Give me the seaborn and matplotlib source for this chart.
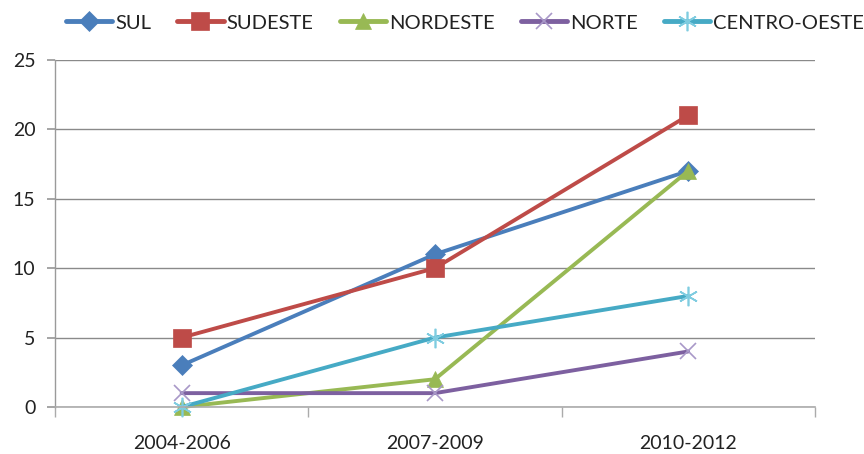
import matplotlib
matplotlib.use("Agg")
import matplotlib.pyplot as plt
import seaborn as sns
import pandas as pd
from matplotlib.ticker import FixedLocator

periods = ["2004-2006", "2007-2009", "2010-2012"]
series_names = ["SUL", "SUDESTE", "NORDESTE", "NORTE", "CENTRO-OESTE"]
sul = [3, 11, 17]
sudeste = [5, 10, 21]
nordeste = [0, 2, 17]
norte = [1, 1, 4]
centro_oeste = [0, 5, 8]
values = [sul, sudeste, nordeste, norte, centro_oeste]

colors = ["#4A7EBB", "#BE4B48", "#98B954", "#7D60A0", "#46AAC5"]
markers = ["D", "s", "^", "x", (6, 2, 0)]
msizes = [10, 12.5, 11.5, 12, 14]

sns.set_theme(style="white")
plt.rcParams['font.family'] = ['Lato', 'DejaVu Sans']

rows = []
for name, vals in zip(series_names, values):
    for i, (p, v) in enumerate(zip(periods, vals)):
        rows.append({"periodo": i, "label": p, "serie": name, "valor": v})
df = pd.DataFrame(rows)

fig = plt.figure(figsize=(8.64, 4.54), dpi=100)
ax = fig.add_axes([0.0637, 0.1035, 0.8793, 0.7645])

for name, c, m, ms in zip(series_names, colors, markers, msizes):
    sub = df[df["serie"] == name]
    mec = c
    mew = 1.2 if name in ("NORTE", "CENTRO-OESTE") else 0.5
    if name == "NORTE":
        mec = "#A898C8"
    if name == "CENTRO-OESTE":
        mec = "#7FCCE0"
    sns.lineplot(data=sub, x="periodo", y="valor", ax=ax, color=c, linewidth=2.8,
                 marker=m, markersize=ms, markeredgecolor=mec, markeredgewidth=mew,
                 label=name, clip_on=False)

ax.set_xlim(-0.5, 2.5)
ax.set_ylim(0, 25)
ax.set_yticks([0, 5, 10, 15, 20, 25])
ax.set_xticks(range(3))
ax.set_xticklabels(periods)
ax.xaxis.set_minor_locator(FixedLocator([-0.5, 0.5, 1.5, 2.5]))
ax.set_xlabel("")
ax.set_ylabel("")
ax.grid(axis="y", color="#8A8A8A", linewidth=1)
ax.set_axisbelow(True)
for s in ["top", "right"]:
    ax.spines[s].set_visible(False)
ax.spines["left"].set_color("#9A9A9A")
ax.spines["bottom"].set_color("#ABABAB")
ax.spines["left"].set_linewidth(1)
ax.spines["bottom"].set_linewidth(1.2)
ax.tick_params(axis="y", which="major", left=True, length=6, color="#9A9A9A",
               labelsize=14, labelcolor="#222222", pad=8)
ax.tick_params(axis="x", which="major", bottom=False, labelsize=14,
               labelcolor="#222222", pad=14)
ax.tick_params(axis="x", which="minor", bottom=True, length=7, color="#ABABAB")

handles, labels = ax.get_legend_handles_labels()
ax.get_legend().remove() if ax.get_legend() else None
leg = fig.legend(handles, labels, loc="center", bbox_to_anchor=(465 / 864, 1 - 23 / 454),
                 ncol=5, frameon=False, fontsize=14.5, handlelength=2.3,
                 columnspacing=1.3, handletextpad=0.15, borderpad=0, borderaxespad=0)
for t in leg.get_texts():
    t.set_color("#222222")
for h in leg.get_lines():
    h.set_linewidth(3.5)

fig.savefig("out.png", dpi=100)
